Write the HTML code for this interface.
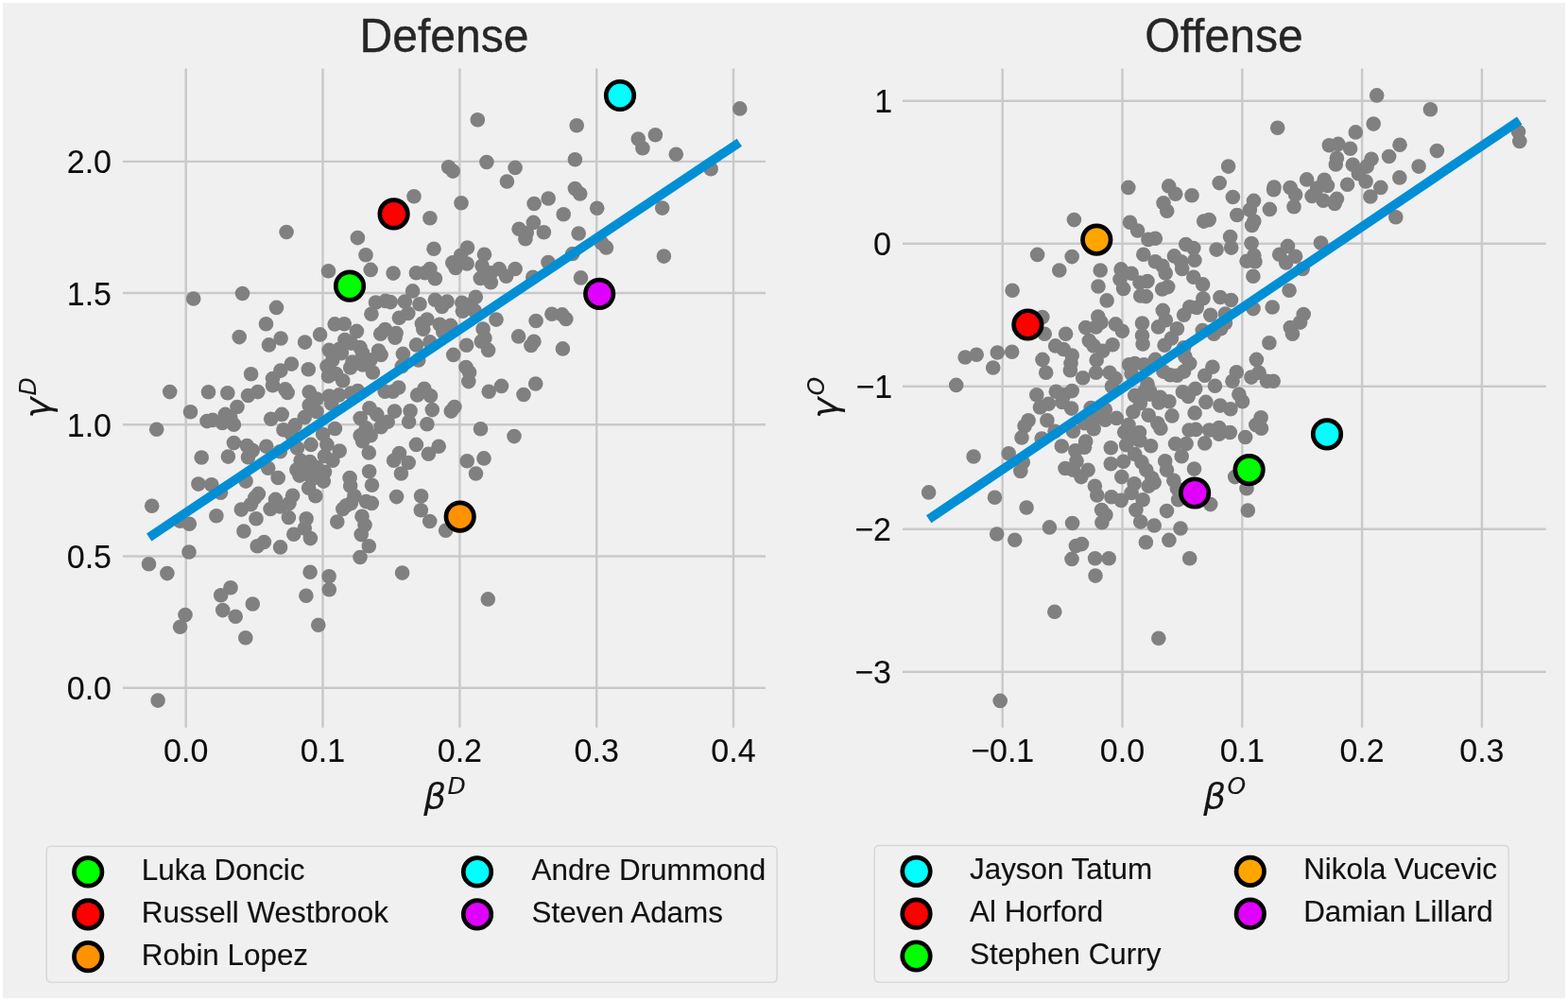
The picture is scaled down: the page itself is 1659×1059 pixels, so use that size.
<!DOCTYPE html>
<html lang="en"><head><meta charset="utf-8"><title>Defense and Offense</title>
<style>html,body{margin:0;padding:0;background:#fff;overflow:hidden}svg{display:block}</style></head>
<body>
<svg width="1659" height="1059" viewBox="0 0 1659 1059" role="img" aria-label="Defense and Offense scatter plots">
<rect x="0" y="0" width="1659" height="1059" fill="#ffffff"/>
<rect x="3" y="3" width="1653" height="1053" fill="#f0f0f0"/>
<g id="defense">
<g stroke="#c9c9c9" stroke-width="2.45" fill="none">
<line x1="196.7" y1="72.5" x2="196.7" y2="769.8"/>
<line x1="341.5" y1="72.5" x2="341.5" y2="769.8"/>
<line x1="486.4" y1="72.5" x2="486.4" y2="769.8"/>
<line x1="631.2" y1="72.5" x2="631.2" y2="769.8"/>
<line x1="776.0" y1="72.5" x2="776.0" y2="769.8"/>
<line x1="130" y1="170.85" x2="810" y2="170.85"/>
<line x1="130" y1="310.05" x2="810" y2="310.05"/>
<line x1="130" y1="449.25" x2="810" y2="449.25"/>
<line x1="130" y1="588.5" x2="810" y2="588.5"/>
<line x1="130" y1="727.7" x2="810" y2="727.7"/>
</g>
<g font-family="'Liberation Sans', sans-serif" font-size="34.0" fill="#0d0d0d" stroke="#0d0d0d" stroke-width="0.1">
<text transform="translate(196.70,806.3) scale(1,1.03)" text-anchor="middle">0.0</text>
<text transform="translate(341.50,806.3) scale(1,1.03)" text-anchor="middle">0.1</text>
<text transform="translate(486.40,806.3) scale(1,1.03)" text-anchor="middle">0.2</text>
<text transform="translate(631.20,806.3) scale(1,1.03)" text-anchor="middle">0.3</text>
<text transform="translate(776.00,806.3) scale(1,1.03)" text-anchor="middle">0.4</text>
<text transform="translate(118.00,183.35) scale(1,1.03)" text-anchor="end">2.0</text>
<text transform="translate(118.00,322.55) scale(1,1.03)" text-anchor="end">1.5</text>
<text transform="translate(118.00,461.75) scale(1,1.03)" text-anchor="end">1.0</text>
<text transform="translate(118.00,601.00) scale(1,1.03)" text-anchor="end">0.5</text>
<text transform="translate(118.00,740.20) scale(1,1.03)" text-anchor="end">0.0</text>
</g>
<text transform="translate(470,54.8) scale(1,1.02)" text-anchor="middle" font-family="'Liberation Sans', sans-serif" font-size="48.1" fill="#262626" stroke="#262626" stroke-width="0.35">Defense</text>
<g font-family="'DejaVu Sans', sans-serif" font-style="italic" fill="#151515" stroke="#151515" stroke-width="0.1"><text x="448.2" y="854.6" font-size="37.4">β</text><text x="473.5" y="840.4" font-size="25">D</text></g>
<g font-family="'DejaVu Sans', sans-serif" font-style="italic" fill="#151515" stroke="#151515" stroke-width="0.1"><text transform="translate(52.5,442.4) rotate(-90)" font-size="37.4">γ</text><text transform="translate(38.4,418.5) rotate(-90)" font-size="25">D</text></g>
<g fill="#808080">
<circle cx="303.1" cy="245.5" r="7.8"/>
<circle cx="438.0" cy="207.8" r="7.8"/>
<circle cx="454.9" cy="230.8" r="7.8"/>
<circle cx="378.4" cy="251.6" r="7.8"/>
<circle cx="387.0" cy="269.8" r="7.8"/>
<circle cx="459.0" cy="263.2" r="7.8"/>
<circle cx="392.2" cy="285.4" r="7.8"/>
<circle cx="416.1" cy="289.1" r="7.8"/>
<circle cx="347.5" cy="286.7" r="7.8"/>
<circle cx="474.6" cy="176.7" r="7.8"/>
<circle cx="505.3" cy="126.8" r="7.8"/>
<circle cx="610.2" cy="132.7" r="7.8"/>
<circle cx="782.8" cy="114.9" r="7.8"/>
<circle cx="675.3" cy="147.1" r="7.8"/>
<circle cx="693.4" cy="142.8" r="7.8"/>
<circle cx="679.9" cy="156.8" r="7.8"/>
<circle cx="715.3" cy="163.3" r="7.8"/>
<circle cx="608.4" cy="168.8" r="7.8"/>
<circle cx="514.9" cy="171.5" r="7.8"/>
<circle cx="545.1" cy="177.4" r="7.8"/>
<circle cx="479.2" cy="181.1" r="7.8"/>
<circle cx="536.4" cy="192.0" r="7.8"/>
<circle cx="752.1" cy="178.7" r="7.8"/>
<circle cx="608.4" cy="199.5" r="7.8"/>
<circle cx="613.7" cy="205.0" r="7.8"/>
<circle cx="580.2" cy="210.0" r="7.8"/>
<circle cx="565.1" cy="215.5" r="7.8"/>
<circle cx="488.0" cy="214.8" r="7.8"/>
<circle cx="596.2" cy="226.7" r="7.8"/>
<circle cx="631.7" cy="220.3" r="7.8"/>
<circle cx="700.7" cy="220.1" r="7.8"/>
<circle cx="564.4" cy="235.4" r="7.8"/>
<circle cx="549.1" cy="242.2" r="7.8"/>
<circle cx="557.2" cy="246.6" r="7.8"/>
<circle cx="555.9" cy="252.7" r="7.8"/>
<circle cx="575.4" cy="245.7" r="7.8"/>
<circle cx="612.2" cy="247.0" r="7.8"/>
<circle cx="636.5" cy="257.1" r="7.8"/>
<circle cx="641.5" cy="261.9" r="7.8"/>
<circle cx="605.8" cy="268.5" r="7.8"/>
<circle cx="702.4" cy="271.1" r="7.8"/>
<circle cx="580.0" cy="277.5" r="7.8"/>
<circle cx="179.7" cy="414.6" r="7.8"/>
<circle cx="165.7" cy="454.3" r="7.8"/>
<circle cx="160.7" cy="535.2" r="7.8"/>
<circle cx="204.7" cy="316.0" r="7.8"/>
<circle cx="256.5" cy="310.5" r="7.8"/>
<circle cx="292.5" cy="325.4" r="7.8"/>
<circle cx="281.5" cy="342.7" r="7.8"/>
<circle cx="253.2" cy="356.6" r="7.8"/>
<circle cx="297.1" cy="358.0" r="7.8"/>
<circle cx="284.5" cy="364.9" r="7.8"/>
<circle cx="322.6" cy="362.1" r="7.8"/>
<circle cx="265.6" cy="395.7" r="7.8"/>
<circle cx="308.4" cy="385.1" r="7.8"/>
<circle cx="296.9" cy="392.1" r="7.8"/>
<circle cx="288.5" cy="400.6" r="7.8"/>
<circle cx="326.3" cy="390.7" r="7.8"/>
<circle cx="288.5" cy="407.8" r="7.8"/>
<circle cx="338.6" cy="353.9" r="7.8"/>
<circle cx="354.2" cy="342.9" r="7.8"/>
<circle cx="364.2" cy="342.7" r="7.8"/>
<circle cx="377.4" cy="350.4" r="7.8"/>
<circle cx="392.9" cy="332.2" r="7.8"/>
<circle cx="402.7" cy="353.3" r="7.8"/>
<circle cx="407.5" cy="348.5" r="7.8"/>
<circle cx="419.1" cy="352.5" r="7.8"/>
<circle cx="418.0" cy="357.3" r="7.8"/>
<circle cx="422.4" cy="336.2" r="7.8"/>
<circle cx="431.8" cy="331.5" r="7.8"/>
<circle cx="446.4" cy="342.4" r="7.8"/>
<circle cx="447.8" cy="348.2" r="7.8"/>
<circle cx="440.5" cy="364.9" r="7.8"/>
<circle cx="426.4" cy="374.4" r="7.8"/>
<circle cx="400.5" cy="371.1" r="7.8"/>
<circle cx="403.1" cy="375.5" r="7.8"/>
<circle cx="364.9" cy="359.5" r="7.8"/>
<circle cx="348.2" cy="370.4" r="7.8"/>
<circle cx="359.1" cy="369.3" r="7.8"/>
<circle cx="371.5" cy="363.1" r="7.8"/>
<circle cx="380.9" cy="367.5" r="7.8"/>
<circle cx="361.3" cy="373.6" r="7.8"/>
<circle cx="383.5" cy="373.6" r="7.8"/>
<circle cx="372.9" cy="383.1" r="7.8"/>
<circle cx="346.0" cy="387.5" r="7.8"/>
<circle cx="351.8" cy="380.9" r="7.8"/>
<circle cx="370.7" cy="388.9" r="7.8"/>
<circle cx="383.8" cy="386.0" r="7.8"/>
<circle cx="391.8" cy="380.9" r="7.8"/>
<circle cx="394.4" cy="394.0" r="7.8"/>
<circle cx="347.5" cy="398.0" r="7.8"/>
<circle cx="355.5" cy="395.5" r="7.8"/>
<circle cx="362.7" cy="402.7" r="7.8"/>
<circle cx="425.3" cy="387.5" r="7.8"/>
<circle cx="442.7" cy="380.9" r="7.8"/>
<circle cx="494.5" cy="262.1" r="7.8"/>
<circle cx="487.5" cy="270.2" r="7.8"/>
<circle cx="478.8" cy="277.9" r="7.8"/>
<circle cx="494.1" cy="279.0" r="7.8"/>
<circle cx="482.0" cy="283.4" r="7.8"/>
<circle cx="512.5" cy="269.2" r="7.8"/>
<circle cx="510.1" cy="281.2" r="7.8"/>
<circle cx="528.1" cy="284.5" r="7.8"/>
<circle cx="545.1" cy="284.5" r="7.8"/>
<circle cx="519.3" cy="288.9" r="7.8"/>
<circle cx="440.4" cy="288.8" r="7.8"/>
<circle cx="449.5" cy="288.8" r="7.8"/>
<circle cx="454.9" cy="284.6" r="7.8"/>
<circle cx="460.4" cy="294.8" r="7.8"/>
<circle cx="436.6" cy="307.9" r="7.8"/>
<circle cx="397.5" cy="320.0" r="7.8"/>
<circle cx="407.8" cy="318.4" r="7.8"/>
<circle cx="413.2" cy="319.6" r="7.8"/>
<circle cx="428.3" cy="319.0" r="7.8"/>
<circle cx="444.0" cy="321.7" r="7.8"/>
<circle cx="508.3" cy="294.4" r="7.8"/>
<circle cx="519.3" cy="298.7" r="7.8"/>
<circle cx="535.6" cy="292.2" r="7.8"/>
<circle cx="563.8" cy="293.3" r="7.8"/>
<circle cx="460.4" cy="317.2" r="7.8"/>
<circle cx="473.1" cy="319.0" r="7.8"/>
<circle cx="467.6" cy="324.4" r="7.8"/>
<circle cx="503.3" cy="314.2" r="7.8"/>
<circle cx="488.8" cy="320.2" r="7.8"/>
<circle cx="497.2" cy="322.6" r="7.8"/>
<circle cx="489.4" cy="329.3" r="7.8"/>
<circle cx="502.1" cy="328.7" r="7.8"/>
<circle cx="525.0" cy="338.1" r="7.8"/>
<circle cx="567.1" cy="339.5" r="7.8"/>
<circle cx="451.9" cy="338.0" r="7.8"/>
<circle cx="465.2" cy="343.2" r="7.8"/>
<circle cx="476.7" cy="344.4" r="7.8"/>
<circle cx="468.8" cy="351.0" r="7.8"/>
<circle cx="454.9" cy="361.9" r="7.8"/>
<circle cx="548.6" cy="355.9" r="7.8"/>
<circle cx="564.9" cy="361.3" r="7.8"/>
<circle cx="561.9" cy="365.5" r="7.8"/>
<circle cx="511.1" cy="348.0" r="7.8"/>
<circle cx="512.9" cy="357.7" r="7.8"/>
<circle cx="509.3" cy="361.3" r="7.8"/>
<circle cx="516.6" cy="370.4" r="7.8"/>
<circle cx="493.6" cy="365.3" r="7.8"/>
<circle cx="479.7" cy="375.4" r="7.8"/>
<circle cx="493.0" cy="388.5" r="7.8"/>
<circle cx="496.6" cy="393.9" r="7.8"/>
<circle cx="495.8" cy="403.6" r="7.8"/>
<circle cx="530.5" cy="408.4" r="7.8"/>
<circle cx="566.7" cy="406.0" r="7.8"/>
<circle cx="614.5" cy="293.9" r="7.8"/>
<circle cx="583.9" cy="332.3" r="7.8"/>
<circle cx="594.8" cy="332.9" r="7.8"/>
<circle cx="598.8" cy="337.5" r="7.8"/>
<circle cx="595.4" cy="368.9" r="7.8"/>
<circle cx="201.5" cy="435.7" r="7.8"/>
<circle cx="220.5" cy="414.8" r="7.8"/>
<circle cx="240.8" cy="415.7" r="7.8"/>
<circle cx="262.5" cy="418.5" r="7.8"/>
<circle cx="272.8" cy="414.6" r="7.8"/>
<circle cx="301.8" cy="411.8" r="7.8"/>
<circle cx="304.2" cy="415.4" r="7.8"/>
<circle cx="251.0" cy="430.5" r="7.8"/>
<circle cx="238.3" cy="438.4" r="7.8"/>
<circle cx="219.0" cy="445.6" r="7.8"/>
<circle cx="225.0" cy="444.4" r="7.8"/>
<circle cx="235.3" cy="447.5" r="7.8"/>
<circle cx="247.4" cy="449.3" r="7.8"/>
<circle cx="243.8" cy="442.0" r="7.8"/>
<circle cx="286.7" cy="443.2" r="7.8"/>
<circle cx="298.2" cy="438.4" r="7.8"/>
<circle cx="327.2" cy="414.8" r="7.8"/>
<circle cx="335.0" cy="422.1" r="7.8"/>
<circle cx="327.2" cy="428.7" r="7.8"/>
<circle cx="348.3" cy="419.1" r="7.8"/>
<circle cx="358.6" cy="417.9" r="7.8"/>
<circle cx="350.7" cy="426.9" r="7.8"/>
<circle cx="322.3" cy="441.4" r="7.8"/>
<circle cx="335.0" cy="435.4" r="7.8"/>
<circle cx="312.1" cy="449.9" r="7.8"/>
<circle cx="300.0" cy="454.7" r="7.8"/>
<circle cx="308.4" cy="459.5" r="7.8"/>
<circle cx="371.3" cy="416.0" r="7.8"/>
<circle cx="378.5" cy="413.6" r="7.8"/>
<circle cx="247.4" cy="468.6" r="7.8"/>
<circle cx="261.3" cy="471.6" r="7.8"/>
<circle cx="267.3" cy="476.5" r="7.8"/>
<circle cx="262.5" cy="483.7" r="7.8"/>
<circle cx="281.8" cy="472.2" r="7.8"/>
<circle cx="296.3" cy="477.7" r="7.8"/>
<circle cx="241.4" cy="483.1" r="7.8"/>
<circle cx="213.2" cy="484.0" r="7.8"/>
<circle cx="354.4" cy="453.5" r="7.8"/>
<circle cx="341.7" cy="459.5" r="7.8"/>
<circle cx="329.0" cy="470.4" r="7.8"/>
<circle cx="314.5" cy="474.0" r="7.8"/>
<circle cx="345.9" cy="470.4" r="7.8"/>
<circle cx="359.2" cy="477.1" r="7.8"/>
<circle cx="343.5" cy="482.5" r="7.8"/>
<circle cx="351.9" cy="487.3" r="7.8"/>
<circle cx="318.1" cy="487.3" r="7.8"/>
<circle cx="327.8" cy="488.5" r="7.8"/>
<circle cx="313.9" cy="497.0" r="7.8"/>
<circle cx="322.9" cy="500.6" r="7.8"/>
<circle cx="335.0" cy="494.6" r="7.8"/>
<circle cx="343.5" cy="499.4" r="7.8"/>
<circle cx="316.9" cy="503.1" r="7.8"/>
<circle cx="330.2" cy="506.7" r="7.8"/>
<circle cx="342.3" cy="509.1" r="7.8"/>
<circle cx="283.7" cy="495.2" r="7.8"/>
<circle cx="294.2" cy="505.5" r="7.8"/>
<circle cx="209.9" cy="512.1" r="7.8"/>
<circle cx="223.8" cy="512.7" r="7.8"/>
<circle cx="260.1" cy="509.1" r="7.8"/>
<circle cx="233.5" cy="521.2" r="7.8"/>
<circle cx="326.6" cy="516.3" r="7.8"/>
<circle cx="333.8" cy="524.8" r="7.8"/>
<circle cx="370.1" cy="505.5" r="7.8"/>
<circle cx="370.7" cy="513.9" r="7.8"/>
<circle cx="374.9" cy="524.8" r="7.8"/>
<circle cx="273.4" cy="522.4" r="7.8"/>
<circle cx="269.8" cy="526.6" r="7.8"/>
<circle cx="291.5" cy="528.4" r="7.8"/>
<circle cx="309.6" cy="524.2" r="7.8"/>
<circle cx="407.2" cy="414.2" r="7.8"/>
<circle cx="415.6" cy="414.2" r="7.8"/>
<circle cx="421.7" cy="410.0" r="7.8"/>
<circle cx="441.6" cy="417.9" r="7.8"/>
<circle cx="455.5" cy="418.7" r="7.8"/>
<circle cx="448.9" cy="411.2" r="7.8"/>
<circle cx="517.2" cy="414.2" r="7.8"/>
<circle cx="554.0" cy="417.5" r="7.8"/>
<circle cx="480.9" cy="430.5" r="7.8"/>
<circle cx="477.3" cy="435.1" r="7.8"/>
<circle cx="457.3" cy="433.6" r="7.8"/>
<circle cx="434.1" cy="434.8" r="7.8"/>
<circle cx="432.6" cy="446.3" r="7.8"/>
<circle cx="451.9" cy="448.7" r="7.8"/>
<circle cx="417.5" cy="435.1" r="7.8"/>
<circle cx="390.9" cy="431.8" r="7.8"/>
<circle cx="398.7" cy="438.4" r="7.8"/>
<circle cx="410.2" cy="446.3" r="7.8"/>
<circle cx="403.0" cy="451.7" r="7.8"/>
<circle cx="387.3" cy="452.9" r="7.8"/>
<circle cx="381.2" cy="442.6" r="7.8"/>
<circle cx="392.1" cy="460.8" r="7.8"/>
<circle cx="383.6" cy="466.8" r="7.8"/>
<circle cx="390.3" cy="478.9" r="7.8"/>
<circle cx="381.2" cy="460.8" r="7.8"/>
<circle cx="508.5" cy="453.7" r="7.8"/>
<circle cx="544.0" cy="461.6" r="7.8"/>
<circle cx="440.4" cy="470.4" r="7.8"/>
<circle cx="464.2" cy="472.2" r="7.8"/>
<circle cx="453.4" cy="480.3" r="7.8"/>
<circle cx="422.5" cy="479.5" r="7.8"/>
<circle cx="416.6" cy="487.3" r="7.8"/>
<circle cx="432.2" cy="489.5" r="7.8"/>
<circle cx="424.4" cy="501.0" r="7.8"/>
<circle cx="494.2" cy="487.7" r="7.8"/>
<circle cx="512.0" cy="484.9" r="7.8"/>
<circle cx="503.5" cy="501.0" r="7.8"/>
<circle cx="390.6" cy="498.8" r="7.8"/>
<circle cx="393.5" cy="513.3" r="7.8"/>
<circle cx="419.6" cy="525.6" r="7.8"/>
<circle cx="445.6" cy="524.8" r="7.8"/>
<circle cx="200.3" cy="554.2" r="7.8"/>
<circle cx="190.6" cy="551.2" r="7.8"/>
<circle cx="228.9" cy="545.7" r="7.8"/>
<circle cx="255.3" cy="539.1" r="7.8"/>
<circle cx="265.5" cy="533.6" r="7.8"/>
<circle cx="271.0" cy="548.7" r="7.8"/>
<circle cx="286.1" cy="538.5" r="7.8"/>
<circle cx="296.3" cy="536.0" r="7.8"/>
<circle cx="305.4" cy="547.5" r="7.8"/>
<circle cx="306.0" cy="532.4" r="7.8"/>
<circle cx="257.9" cy="562.0" r="7.8"/>
<circle cx="272.2" cy="577.7" r="7.8"/>
<circle cx="279.4" cy="573.5" r="7.8"/>
<circle cx="296.6" cy="578.9" r="7.8"/>
<circle cx="324.1" cy="548.7" r="7.8"/>
<circle cx="322.3" cy="559.0" r="7.8"/>
<circle cx="310.8" cy="565.3" r="7.8"/>
<circle cx="328.4" cy="569.6" r="7.8"/>
<circle cx="200.0" cy="584.0" r="7.8"/>
<circle cx="356.8" cy="552.1" r="7.8"/>
<circle cx="366.4" cy="534.8" r="7.8"/>
<circle cx="362.8" cy="538.5" r="7.8"/>
<circle cx="371.3" cy="532.4" r="7.8"/>
<circle cx="328.1" cy="605.3" r="7.8"/>
<circle cx="348.1" cy="609.8" r="7.8"/>
<circle cx="348.3" cy="623.7" r="7.8"/>
<circle cx="323.9" cy="630.3" r="7.8"/>
<circle cx="244.0" cy="621.8" r="7.8"/>
<circle cx="233.7" cy="629.7" r="7.8"/>
<circle cx="267.3" cy="639.0" r="7.8"/>
<circle cx="235.7" cy="645.6" r="7.8"/>
<circle cx="387.3" cy="530.6" r="7.8"/>
<circle cx="393.3" cy="532.4" r="7.8"/>
<circle cx="445.3" cy="539.7" r="7.8"/>
<circle cx="454.7" cy="551.5" r="7.8"/>
<circle cx="471.6" cy="561.2" r="7.8"/>
<circle cx="383.0" cy="546.3" r="7.8"/>
<circle cx="386.0" cy="555.6" r="7.8"/>
<circle cx="382.2" cy="565.6" r="7.8"/>
<circle cx="390.3" cy="577.7" r="7.8"/>
<circle cx="381.0" cy="589.5" r="7.8"/>
<circle cx="425.6" cy="606.1" r="7.8"/>
<circle cx="516.3" cy="633.9" r="7.8"/>
<circle cx="336.8" cy="661.2" r="7.8"/>
<circle cx="259.8" cy="674.8" r="7.8"/>
<circle cx="249.2" cy="652.2" r="7.8"/>
<circle cx="196.0" cy="650.6" r="7.8"/>
<circle cx="190.6" cy="663.3" r="7.8"/>
<circle cx="157.5" cy="596.8" r="7.8"/>
<circle cx="176.9" cy="606.6" r="7.8"/>
<circle cx="167.1" cy="741.1" r="7.8"/>
</g>
<line x1="157.67" y1="568.5" x2="782.3" y2="150.7" stroke="#008fd5" stroke-width="9.7" stroke-linecap="butt"/>
<g stroke="#000" stroke-width="4.7">
<circle cx="370.0" cy="302.6" r="14.75" fill="#00ff00"/>
<circle cx="416.6" cy="226.4" r="14.75" fill="#ff0000"/>
<circle cx="486.7" cy="546.6" r="14.75" fill="#ff9200"/>
<circle cx="656" cy="101.0" r="14.75" fill="#00ffff"/>
<circle cx="634.2" cy="310.8" r="14.75" fill="#e000ff"/>
</g>
<rect x="49.3" y="895.4" width="772.80" height="143.70" rx="4.5" ry="4.5" fill="#f0f0f0" fill-opacity="0.8" stroke="#d5d5d5" stroke-width="1.4"/>
<circle cx="93.2" cy="922.4" r="14.75" fill="#00ff00" stroke="#000" stroke-width="4.7"/>
<text x="149.8" y="931.00" font-family="'Liberation Sans', sans-serif" font-size="31.4" fill="#111111" stroke="#111111" stroke-width="0.15">Luka Doncic</text>
<circle cx="93.2" cy="967.3" r="14.75" fill="#ff0000" stroke="#000" stroke-width="4.7"/>
<text x="149.8" y="975.90" font-family="'Liberation Sans', sans-serif" font-size="31.4" fill="#111111" stroke="#111111" stroke-width="0.15">Russell Westbrook</text>
<circle cx="93.2" cy="1012.2" r="14.75" fill="#ff9200" stroke="#000" stroke-width="4.7"/>
<text x="149.8" y="1020.80" font-family="'Liberation Sans', sans-serif" font-size="31.4" fill="#111111" stroke="#111111" stroke-width="0.15">Robin Lopez</text>
<circle cx="505" cy="922.4" r="14.75" fill="#00ffff" stroke="#000" stroke-width="4.7"/>
<text x="562.5" y="931.00" font-family="'Liberation Sans', sans-serif" font-size="31.4" fill="#111111" stroke="#111111" stroke-width="0.15">Andre Drummond</text>
<circle cx="505" cy="967.3" r="14.75" fill="#e000ff" stroke="#000" stroke-width="4.7"/>
<text x="562.5" y="975.90" font-family="'Liberation Sans', sans-serif" font-size="31.4" fill="#111111" stroke="#111111" stroke-width="0.15">Steven Adams</text>
</g>
<g id="offense">
<g stroke="#c9c9c9" stroke-width="2.45" fill="none">
<line x1="1060.7" y1="72.5" x2="1060.7" y2="769.8"/>
<line x1="1187.5" y1="72.5" x2="1187.5" y2="769.8"/>
<line x1="1314.3" y1="72.5" x2="1314.3" y2="769.8"/>
<line x1="1441.1" y1="72.5" x2="1441.1" y2="769.8"/>
<line x1="1567.9" y1="72.5" x2="1567.9" y2="769.8"/>
<line x1="955" y1="106.7" x2="1635.6" y2="106.7"/>
<line x1="955" y1="257.7" x2="1635.6" y2="257.7"/>
<line x1="955" y1="408.7" x2="1635.6" y2="408.7"/>
<line x1="955" y1="559.7" x2="1635.6" y2="559.7"/>
<line x1="955" y1="710.7" x2="1635.6" y2="710.7"/>
</g>
<g font-family="'Liberation Sans', sans-serif" font-size="34.0" fill="#0d0d0d" stroke="#0d0d0d" stroke-width="0.1">
<text transform="translate(1060.70,806.3) scale(1,1.03)" text-anchor="middle">−0.1</text>
<text transform="translate(1187.50,806.3) scale(1,1.03)" text-anchor="middle">0.0</text>
<text transform="translate(1314.30,806.3) scale(1,1.03)" text-anchor="middle">0.1</text>
<text transform="translate(1441.10,806.3) scale(1,1.03)" text-anchor="middle">0.2</text>
<text transform="translate(1567.90,806.3) scale(1,1.03)" text-anchor="middle">0.3</text>
<text transform="translate(944.20,119.10) scale(1,1.03)" text-anchor="end">1</text>
<text transform="translate(943.00,270.10) scale(1,1.03)" text-anchor="end">0</text>
<text transform="translate(944.20,421.10) scale(1,1.03)" text-anchor="end">−1</text>
<text transform="translate(943.00,572.10) scale(1,1.03)" text-anchor="end">−2</text>
<text transform="translate(943.00,723.10) scale(1,1.03)" text-anchor="end">−3</text>
</g>
<text transform="translate(1295,54.8) scale(1,1.02)" text-anchor="middle" font-family="'Liberation Sans', sans-serif" font-size="48.1" fill="#262626" stroke="#262626" stroke-width="0.35">Offense</text>
<g font-family="'DejaVu Sans', sans-serif" font-style="italic" fill="#151515" stroke="#151515" stroke-width="0.1"><text x="1273.2" y="854.6" font-size="37.4">β</text><text x="1298.5" y="840.4" font-size="25">O</text></g>
<g font-family="'DejaVu Sans', sans-serif" font-style="italic" fill="#151515" stroke="#151515" stroke-width="0.1"><text transform="translate(886.2,442.7) rotate(-90)" font-size="37.4">γ</text><text transform="translate(872.2,418.4) rotate(-90)" font-size="25">O</text></g>
<g fill="#808080">
<circle cx="1193.8" cy="198.4" r="7.8"/>
<circle cx="1236.7" cy="196.9" r="7.8"/>
<circle cx="1243.7" cy="205.2" r="7.8"/>
<circle cx="1261.0" cy="206.7" r="7.8"/>
<circle cx="1231.0" cy="214.8" r="7.8"/>
<circle cx="1234.7" cy="223.2" r="7.8"/>
<circle cx="1290.2" cy="193.6" r="7.8"/>
<circle cx="1299.6" cy="176.1" r="7.8"/>
<circle cx="1136.4" cy="232.6" r="7.8"/>
<circle cx="1195.5" cy="235.2" r="7.8"/>
<circle cx="1203.6" cy="244.0" r="7.8"/>
<circle cx="1215.0" cy="253.4" r="7.8"/>
<circle cx="1222.3" cy="252.3" r="7.8"/>
<circle cx="1273.7" cy="234.1" r="7.8"/>
<circle cx="1279.2" cy="232.6" r="7.8"/>
<circle cx="1097.6" cy="269.4" r="7.8"/>
<circle cx="1134.2" cy="271.6" r="7.8"/>
<circle cx="1120.8" cy="286.0" r="7.8"/>
<circle cx="1164.2" cy="286.0" r="7.8"/>
<circle cx="1209.8" cy="269.2" r="7.8"/>
<circle cx="1222.3" cy="276.8" r="7.8"/>
<circle cx="1229.9" cy="281.2" r="7.8"/>
<circle cx="1233.2" cy="288.9" r="7.8"/>
<circle cx="1254.7" cy="258.6" r="7.8"/>
<circle cx="1262.8" cy="262.6" r="7.8"/>
<circle cx="1263.9" cy="275.3" r="7.8"/>
<circle cx="1242.4" cy="270.9" r="7.8"/>
<circle cx="1249.6" cy="276.8" r="7.8"/>
<circle cx="1250.7" cy="284.5" r="7.8"/>
<circle cx="1287.1" cy="264.1" r="7.8"/>
<circle cx="1186.1" cy="284.9" r="7.8"/>
<circle cx="1197.1" cy="289.3" r="7.8"/>
<circle cx="1185.0" cy="295.4" r="7.8"/>
<circle cx="1206.0" cy="299.1" r="7.8"/>
<circle cx="1214.0" cy="297.6" r="7.8"/>
<circle cx="1262.8" cy="293.2" r="7.8"/>
<circle cx="1272.6" cy="300.9" r="7.8"/>
<circle cx="1456.7" cy="100.9" r="7.8"/>
<circle cx="1513.4" cy="115.8" r="7.8"/>
<circle cx="1453.2" cy="131.1" r="7.8"/>
<circle cx="1351.7" cy="135.3" r="7.8"/>
<circle cx="1434.3" cy="139.9" r="7.8"/>
<circle cx="1406.3" cy="153.7" r="7.8"/>
<circle cx="1415.9" cy="152.4" r="7.8"/>
<circle cx="1428.6" cy="157.2" r="7.8"/>
<circle cx="1481.0" cy="153.3" r="7.8"/>
<circle cx="1520.4" cy="159.6" r="7.8"/>
<circle cx="1469.6" cy="165.5" r="7.8"/>
<circle cx="1501.1" cy="176.1" r="7.8"/>
<circle cx="1480.8" cy="187.9" r="7.8"/>
<circle cx="1414.4" cy="167.3" r="7.8"/>
<circle cx="1413.3" cy="173.9" r="7.8"/>
<circle cx="1451.0" cy="168.2" r="7.8"/>
<circle cx="1431.3" cy="174.3" r="7.8"/>
<circle cx="1446.2" cy="176.1" r="7.8"/>
<circle cx="1437.4" cy="183.7" r="7.8"/>
<circle cx="1445.1" cy="192.0" r="7.8"/>
<circle cx="1460.8" cy="198.4" r="7.8"/>
<circle cx="1449.9" cy="208.0" r="7.8"/>
<circle cx="1425.6" cy="195.3" r="7.8"/>
<circle cx="1382.6" cy="189.9" r="7.8"/>
<circle cx="1401.2" cy="190.3" r="7.8"/>
<circle cx="1404.5" cy="196.4" r="7.8"/>
<circle cx="1393.6" cy="199.1" r="7.8"/>
<circle cx="1388.1" cy="207.4" r="7.8"/>
<circle cx="1400.1" cy="212.2" r="7.8"/>
<circle cx="1414.4" cy="210.4" r="7.8"/>
<circle cx="1412.2" cy="215.5" r="7.8"/>
<circle cx="1348.0" cy="198.0" r="7.8"/>
<circle cx="1347.6" cy="200.8" r="7.8"/>
<circle cx="1365.1" cy="198.6" r="7.8"/>
<circle cx="1370.6" cy="206.1" r="7.8"/>
<circle cx="1369.0" cy="218.8" r="7.8"/>
<circle cx="1343.4" cy="221.4" r="7.8"/>
<circle cx="1304.4" cy="208.5" r="7.8"/>
<circle cx="1326.5" cy="212.4" r="7.8"/>
<circle cx="1322.4" cy="222.1" r="7.8"/>
<circle cx="1308.8" cy="227.5" r="7.8"/>
<circle cx="1326.8" cy="234.1" r="7.8"/>
<circle cx="1324.6" cy="238.5" r="7.8"/>
<circle cx="1476.8" cy="229.7" r="7.8"/>
<circle cx="1606.5" cy="139.5" r="7.8"/>
<circle cx="1607.8" cy="149.5" r="7.8"/>
<circle cx="1397.5" cy="257.1" r="7.8"/>
<circle cx="1301.6" cy="250.5" r="7.8"/>
<circle cx="1302.7" cy="262.1" r="7.8"/>
<circle cx="1324.1" cy="257.5" r="7.8"/>
<circle cx="1326.8" cy="270.2" r="7.8"/>
<circle cx="1319.1" cy="276.2" r="7.8"/>
<circle cx="1327.9" cy="276.8" r="7.8"/>
<circle cx="1325.9" cy="292.2" r="7.8"/>
<circle cx="1362.5" cy="260.4" r="7.8"/>
<circle cx="1353.7" cy="269.2" r="7.8"/>
<circle cx="1370.6" cy="271.3" r="7.8"/>
<circle cx="1360.7" cy="277.9" r="7.8"/>
<circle cx="1378.2" cy="284.5" r="7.8"/>
<circle cx="1071.1" cy="307.3" r="7.8"/>
<circle cx="1021.2" cy="378.0" r="7.8"/>
<circle cx="1033.2" cy="375.2" r="7.8"/>
<circle cx="1055.3" cy="373.0" r="7.8"/>
<circle cx="1070.7" cy="372.3" r="7.8"/>
<circle cx="1050.7" cy="389.0" r="7.8"/>
<circle cx="1011.7" cy="407.4" r="7.8"/>
<circle cx="1030.1" cy="483.0" r="7.8"/>
<circle cx="1067.2" cy="479.7" r="7.8"/>
<circle cx="982.6" cy="520.9" r="7.8"/>
<circle cx="1052.5" cy="526.3" r="7.8"/>
<circle cx="1162.0" cy="303.0" r="7.8"/>
<circle cx="1188.6" cy="305.4" r="7.8"/>
<circle cx="1206.7" cy="312.9" r="7.8"/>
<circle cx="1212.5" cy="313.6" r="7.8"/>
<circle cx="1229.7" cy="306.0" r="7.8"/>
<circle cx="1235.7" cy="303.6" r="7.8"/>
<circle cx="1171.1" cy="317.9" r="7.8"/>
<circle cx="1102.8" cy="335.6" r="7.8"/>
<circle cx="1105.2" cy="353.2" r="7.8"/>
<circle cx="1127.6" cy="353.2" r="7.8"/>
<circle cx="1161.8" cy="335.0" r="7.8"/>
<circle cx="1148.7" cy="346.5" r="7.8"/>
<circle cx="1159.6" cy="345.9" r="7.8"/>
<circle cx="1165.0" cy="341.1" r="7.8"/>
<circle cx="1180.4" cy="342.9" r="7.8"/>
<circle cx="1187.4" cy="350.2" r="7.8"/>
<circle cx="1208.5" cy="342.1" r="7.8"/>
<circle cx="1208.5" cy="355.0" r="7.8"/>
<circle cx="1209.1" cy="364.0" r="7.8"/>
<circle cx="1230.3" cy="328.4" r="7.8"/>
<circle cx="1233.3" cy="338.7" r="7.8"/>
<circle cx="1225.5" cy="345.9" r="7.8"/>
<circle cx="1245.4" cy="347.7" r="7.8"/>
<circle cx="1239.4" cy="358.0" r="7.8"/>
<circle cx="1232.1" cy="365.3" r="7.8"/>
<circle cx="1252.6" cy="333.2" r="7.8"/>
<circle cx="1258.7" cy="324.8" r="7.8"/>
<circle cx="1116.7" cy="365.9" r="7.8"/>
<circle cx="1125.2" cy="369.5" r="7.8"/>
<circle cx="1134.2" cy="376.1" r="7.8"/>
<circle cx="1133.0" cy="384.6" r="7.8"/>
<circle cx="1132.4" cy="391.8" r="7.8"/>
<circle cx="1103.0" cy="380.4" r="7.8"/>
<circle cx="1106.7" cy="394.3" r="7.8"/>
<circle cx="1152.3" cy="360.4" r="7.8"/>
<circle cx="1157.2" cy="365.9" r="7.8"/>
<circle cx="1177.1" cy="364.7" r="7.8"/>
<circle cx="1166.8" cy="371.3" r="7.8"/>
<circle cx="1160.2" cy="381.0" r="7.8"/>
<circle cx="1159.6" cy="394.3" r="7.8"/>
<circle cx="1145.7" cy="399.7" r="7.8"/>
<circle cx="1174.1" cy="394.3" r="7.8"/>
<circle cx="1180.1" cy="400.3" r="7.8"/>
<circle cx="1176.5" cy="408.8" r="7.8"/>
<circle cx="1194.6" cy="385.8" r="7.8"/>
<circle cx="1200.7" cy="384.6" r="7.8"/>
<circle cx="1210.3" cy="385.8" r="7.8"/>
<circle cx="1222.4" cy="380.4" r="7.8"/>
<circle cx="1197.1" cy="395.5" r="7.8"/>
<circle cx="1253.9" cy="377.3" r="7.8"/>
<circle cx="1258.7" cy="384.6" r="7.8"/>
<circle cx="1230.9" cy="393.1" r="7.8"/>
<circle cx="1238.1" cy="396.7" r="7.8"/>
<circle cx="1245.4" cy="397.3" r="7.8"/>
<circle cx="1252.6" cy="393.1" r="7.8"/>
<circle cx="1252.6" cy="367.7" r="7.8"/>
<circle cx="1214.0" cy="406.3" r="7.8"/>
<circle cx="1216.4" cy="413.6" r="7.8"/>
<circle cx="1096.8" cy="417.8" r="7.8"/>
<circle cx="1117.3" cy="414.2" r="7.8"/>
<circle cx="1125.8" cy="417.8" r="7.8"/>
<circle cx="1134.2" cy="413.6" r="7.8"/>
<circle cx="1200.7" cy="418.4" r="7.8"/>
<circle cx="1251.4" cy="414.8" r="7.8"/>
<circle cx="1264.7" cy="411.2" r="7.8"/>
<circle cx="1272.9" cy="315.7" r="7.8"/>
<circle cx="1266.2" cy="325.4" r="7.8"/>
<circle cx="1291.0" cy="314.5" r="7.8"/>
<circle cx="1302.5" cy="317.5" r="7.8"/>
<circle cx="1280.7" cy="333.2" r="7.8"/>
<circle cx="1296.4" cy="332.0" r="7.8"/>
<circle cx="1296.4" cy="341.7" r="7.8"/>
<circle cx="1272.3" cy="349.5" r="7.8"/>
<circle cx="1284.3" cy="353.2" r="7.8"/>
<circle cx="1291.6" cy="347.7" r="7.8"/>
<circle cx="1364.1" cy="307.3" r="7.8"/>
<circle cx="1346.2" cy="325.0" r="7.8"/>
<circle cx="1326.0" cy="326.6" r="7.8"/>
<circle cx="1379.2" cy="332.6" r="7.8"/>
<circle cx="1375.6" cy="341.1" r="7.8"/>
<circle cx="1365.3" cy="346.5" r="7.8"/>
<circle cx="1367.5" cy="353.2" r="7.8"/>
<circle cx="1342.9" cy="362.8" r="7.8"/>
<circle cx="1329.4" cy="380.4" r="7.8"/>
<circle cx="1332.1" cy="394.3" r="7.8"/>
<circle cx="1323.9" cy="399.1" r="7.8"/>
<circle cx="1340.5" cy="403.3" r="7.8"/>
<circle cx="1347.2" cy="403.3" r="7.8"/>
<circle cx="1282.9" cy="388.2" r="7.8"/>
<circle cx="1274.7" cy="397.3" r="7.8"/>
<circle cx="1308.3" cy="393.7" r="7.8"/>
<circle cx="1304.0" cy="403.3" r="7.8"/>
<circle cx="1285.5" cy="408.2" r="7.8"/>
<circle cx="1310.9" cy="417.2" r="7.8"/>
<circle cx="1100.4" cy="430.9" r="7.8"/>
<circle cx="1109.4" cy="427.3" r="7.8"/>
<circle cx="1123.9" cy="425.4" r="7.8"/>
<circle cx="1133.6" cy="432.1" r="7.8"/>
<circle cx="1088.1" cy="444.8" r="7.8"/>
<circle cx="1084.1" cy="450.8" r="7.8"/>
<circle cx="1081.0" cy="462.9" r="7.8"/>
<circle cx="1107.9" cy="444.8" r="7.8"/>
<circle cx="1102.2" cy="464.1" r="7.8"/>
<circle cx="1116.1" cy="456.3" r="7.8"/>
<circle cx="1154.2" cy="431.5" r="7.8"/>
<circle cx="1169.3" cy="433.3" r="7.8"/>
<circle cx="1159.6" cy="441.8" r="7.8"/>
<circle cx="1181.3" cy="442.4" r="7.8"/>
<circle cx="1147.5" cy="447.8" r="7.8"/>
<circle cx="1135.4" cy="456.3" r="7.8"/>
<circle cx="1157.2" cy="453.8" r="7.8"/>
<circle cx="1169.3" cy="444.2" r="7.8"/>
<circle cx="1123.3" cy="472.0" r="7.8"/>
<circle cx="1148.7" cy="467.1" r="7.8"/>
<circle cx="1147.5" cy="473.2" r="7.8"/>
<circle cx="1137.8" cy="476.8" r="7.8"/>
<circle cx="1139.0" cy="487.7" r="7.8"/>
<circle cx="1127.0" cy="495.5" r="7.8"/>
<circle cx="1135.4" cy="497.3" r="7.8"/>
<circle cx="1143.9" cy="504.6" r="7.8"/>
<circle cx="1151.1" cy="497.3" r="7.8"/>
<circle cx="1175.3" cy="473.8" r="7.8"/>
<circle cx="1175.3" cy="490.7" r="7.8"/>
<circle cx="1188.6" cy="488.3" r="7.8"/>
<circle cx="1186.8" cy="504.6" r="7.8"/>
<circle cx="1198.9" cy="435.7" r="7.8"/>
<circle cx="1215.2" cy="439.3" r="7.8"/>
<circle cx="1224.8" cy="447.8" r="7.8"/>
<circle cx="1227.9" cy="453.2" r="7.8"/>
<circle cx="1194.0" cy="449.6" r="7.8"/>
<circle cx="1205.5" cy="457.5" r="7.8"/>
<circle cx="1191.6" cy="470.8" r="7.8"/>
<circle cx="1206.1" cy="465.9" r="7.8"/>
<circle cx="1217.6" cy="471.7" r="7.8"/>
<circle cx="1200.7" cy="480.4" r="7.8"/>
<circle cx="1226.1" cy="426.0" r="7.8"/>
<circle cx="1236.9" cy="424.8" r="7.8"/>
<circle cx="1240.0" cy="439.9" r="7.8"/>
<circle cx="1264.1" cy="436.9" r="7.8"/>
<circle cx="1258.1" cy="455.0" r="7.8"/>
<circle cx="1265.3" cy="454.4" r="7.8"/>
<circle cx="1243.6" cy="469.5" r="7.8"/>
<circle cx="1255.1" cy="469.5" r="7.8"/>
<circle cx="1250.2" cy="482.8" r="7.8"/>
<circle cx="1232.7" cy="487.7" r="7.8"/>
<circle cx="1234.5" cy="497.3" r="7.8"/>
<circle cx="1241.8" cy="508.2" r="7.8"/>
<circle cx="1263.5" cy="496.1" r="7.8"/>
<circle cx="1245.4" cy="516.7" r="7.8"/>
<circle cx="1246.6" cy="528.8" r="7.8"/>
<circle cx="1207.9" cy="488.9" r="7.8"/>
<circle cx="1212.8" cy="497.3" r="7.8"/>
<circle cx="1218.8" cy="505.8" r="7.8"/>
<circle cx="1221.2" cy="510.6" r="7.8"/>
<circle cx="1215.2" cy="514.3" r="7.8"/>
<circle cx="1200.1" cy="511.8" r="7.8"/>
<circle cx="1197.1" cy="521.5" r="7.8"/>
<circle cx="1209.1" cy="528.8" r="7.8"/>
<circle cx="1201.9" cy="539.6" r="7.8"/>
<circle cx="1158.4" cy="514.3" r="7.8"/>
<circle cx="1160.8" cy="523.9" r="7.8"/>
<circle cx="1175.9" cy="525.7" r="7.8"/>
<circle cx="1186.2" cy="529.4" r="7.8"/>
<circle cx="1165.6" cy="539.6" r="7.8"/>
<circle cx="1086.1" cy="537.0" r="7.8"/>
<circle cx="1079.8" cy="498.5" r="7.8"/>
<circle cx="1082.3" cy="488.9" r="7.8"/>
<circle cx="1210.7" cy="414.3" r="7.8"/>
<circle cx="1206.4" cy="426.8" r="7.8"/>
<circle cx="1189.7" cy="457.2" r="7.8"/>
<circle cx="1198.4" cy="463.9" r="7.8"/>
<circle cx="1257.2" cy="419.4" r="7.8"/>
<circle cx="1275.9" cy="425.4" r="7.8"/>
<circle cx="1291.0" cy="429.1" r="7.8"/>
<circle cx="1301.9" cy="432.7" r="7.8"/>
<circle cx="1314.5" cy="424.8" r="7.8"/>
<circle cx="1334.1" cy="441.8" r="7.8"/>
<circle cx="1328.8" cy="449.6" r="7.8"/>
<circle cx="1334.5" cy="453.2" r="7.8"/>
<circle cx="1317.6" cy="462.5" r="7.8"/>
<circle cx="1279.5" cy="455.0" r="7.8"/>
<circle cx="1289.8" cy="452.6" r="7.8"/>
<circle cx="1289.8" cy="459.3" r="7.8"/>
<circle cx="1301.3" cy="457.5" r="7.8"/>
<circle cx="1274.7" cy="468.9" r="7.8"/>
<circle cx="1306.7" cy="504.6" r="7.8"/>
<circle cx="1319.0" cy="516.7" r="7.8"/>
<circle cx="1280.7" cy="533.6" r="7.8"/>
<circle cx="1320.3" cy="540.0" r="7.8"/>
<circle cx="1110.4" cy="557.9" r="7.8"/>
<circle cx="1134.6" cy="553.5" r="7.8"/>
<circle cx="1165.9" cy="552.7" r="7.8"/>
<circle cx="1169.9" cy="544.8" r="7.8"/>
<circle cx="1206.7" cy="552.1" r="7.8"/>
<circle cx="1221.2" cy="556.0" r="7.8"/>
<circle cx="1234.5" cy="540.6" r="7.8"/>
<circle cx="1249.0" cy="559.0" r="7.8"/>
<circle cx="1212.4" cy="573.8" r="7.8"/>
<circle cx="1236.9" cy="571.4" r="7.8"/>
<circle cx="1258.7" cy="590.8" r="7.8"/>
<circle cx="1138.4" cy="577.5" r="7.8"/>
<circle cx="1144.5" cy="575.6" r="7.8"/>
<circle cx="1134.0" cy="591.4" r="7.8"/>
<circle cx="1158.6" cy="590.8" r="7.8"/>
<circle cx="1173.2" cy="590.8" r="7.8"/>
<circle cx="1159.0" cy="609.1" r="7.8"/>
<circle cx="1115.8" cy="647.3" r="7.8"/>
<circle cx="1054.7" cy="565.0" r="7.8"/>
<circle cx="1073.7" cy="571.2" r="7.8"/>
<circle cx="1225.8" cy="675.2" r="7.8"/>
<circle cx="1058.2" cy="741.4" r="7.8"/>
<circle cx="1216.5" cy="417.3" r="7.8"/>
<circle cx="1227.5" cy="420.2" r="7.8"/>
</g>
<line x1="982.7" y1="549.3" x2="1607.7" y2="127.4" stroke="#008fd5" stroke-width="9.7" stroke-linecap="butt"/>
<g stroke="#000" stroke-width="4.7">
<circle cx="1160.3" cy="253.6" r="14.75" fill="#ffa500"/>
<circle cx="1087.4" cy="343.5" r="14.75" fill="#ff0000"/>
<circle cx="1404" cy="459.3" r="14.75" fill="#00ffff"/>
<circle cx="1321.6" cy="497.1" r="14.75" fill="#00ff00"/>
<circle cx="1264.1" cy="521.5" r="14.75" fill="#e000ff"/>
</g>
<rect x="925.3" y="894.5" width="670.90" height="144.60" rx="4.5" ry="4.5" fill="#f0f0f0" fill-opacity="0.8" stroke="#d5d5d5" stroke-width="1.4"/>
<circle cx="969.5" cy="921.8" r="14.75" fill="#00ffff" stroke="#000" stroke-width="4.7"/>
<text x="1026.0" y="930.40" font-family="'Liberation Sans', sans-serif" font-size="31.4" fill="#111111" stroke="#111111" stroke-width="0.15">Jayson Tatum</text>
<circle cx="969.5" cy="966.65" r="14.75" fill="#ff0000" stroke="#000" stroke-width="4.7"/>
<text x="1026.0" y="975.25" font-family="'Liberation Sans', sans-serif" font-size="31.4" fill="#111111" stroke="#111111" stroke-width="0.15">Al Horford</text>
<circle cx="969.5" cy="1011.5" r="14.75" fill="#00ff00" stroke="#000" stroke-width="4.7"/>
<text x="1026.0" y="1020.10" font-family="'Liberation Sans', sans-serif" font-size="31.4" fill="#111111" stroke="#111111" stroke-width="0.15">Stephen Curry</text>
<circle cx="1322.8" cy="921.8" r="14.75" fill="#ffa500" stroke="#000" stroke-width="4.7"/>
<text x="1379.2" y="930.40" font-family="'Liberation Sans', sans-serif" font-size="31.4" fill="#111111" stroke="#111111" stroke-width="0.15">Nikola Vucevic</text>
<circle cx="1322.8" cy="966.65" r="14.75" fill="#e000ff" stroke="#000" stroke-width="4.7"/>
<text x="1379.2" y="975.25" font-family="'Liberation Sans', sans-serif" font-size="31.4" fill="#111111" stroke="#111111" stroke-width="0.15">Damian Lillard</text>
</g>
</svg>
</body></html>
